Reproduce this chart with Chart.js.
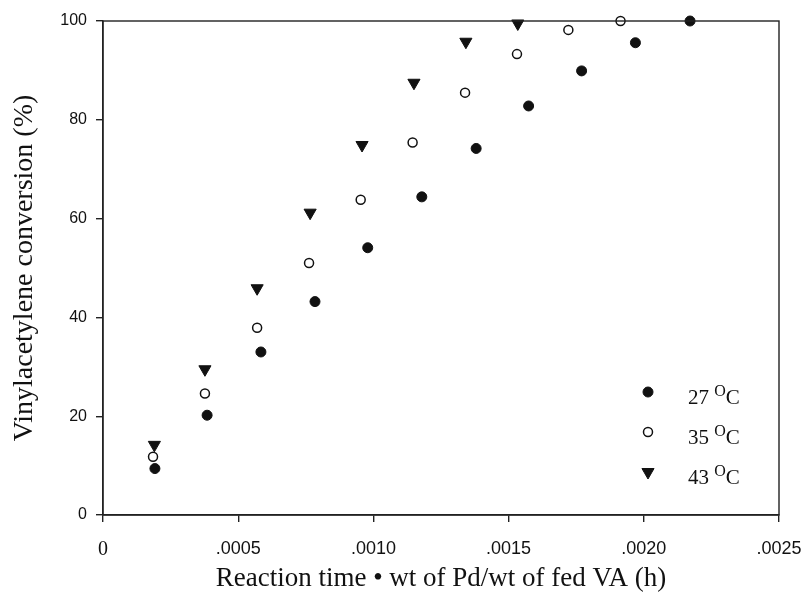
<!DOCTYPE html>
<html>
<head>
<meta charset="utf-8">
<script src="https://cdn.jsdelivr.net/npm/chart.js@4"></script>
<style>
  html, body { margin: 0; padding: 0; background: #fff; }
  #wrap { width: 804px; height: 601px; position: relative; }
</style>
</head>
<body>
<div id="wrap"><canvas id="c"></canvas></div>
<script>
// ---- data ----
const x27 = [0.000192, 0.000385, 0.000584, 0.000784, 0.000979, 0.001179, 0.00138, 0.001574, 0.00177, 0.001969, 0.002171];
const y27 = [9.4, 20.2, 33.0, 43.2, 54.1, 64.4, 74.2, 82.8, 89.9, 95.6, 100];
const x35 = [0.000185, 0.000377, 0.00057, 0.000762, 0.000953, 0.001145, 0.001339, 0.001531, 0.001721, 0.001914];
const y35 = [11.8, 24.6, 37.9, 51.0, 63.8, 75.4, 85.5, 93.3, 98.2, 100];
const x43 = [0.00019, 0.000377, 0.00057, 0.000766, 0.000958, 0.00115, 0.001342, 0.001534];
const y43 = [14.2, 29.5, 45.9, 61.2, 74.9, 87.5, 95.8, 99.5];
const seriesTemps = ['27', '35', '43'];
const xTitle = 'Reaction time \u2022 wt of Pd/wt of fed VA (h)';
const yTitle = 'Vinylacetylene conversion (%)';
const xTickStep = 0.0005, xMax = 0.0025;
const yTickStep = 20, yMax = 100;

const toPts = (xs, ys) => xs.map((x, i) => ({ x: x, y: ys[i] }));
const INK = '#111';

const datasets = [
  { label: seriesTemps[0], data: toPts(x27, y27), pointStyle: 'circle', pointRadius: 5,
    backgroundColor: INK, borderColor: INK, borderWidth: 1, clip: false },
  { label: seriesTemps[1], data: toPts(x35, y35), pointStyle: 'circle', pointRadius: 4.5,
    backgroundColor: '#fff', borderColor: INK, borderWidth: 1.5, clip: false },
  { label: seriesTemps[2], data: toPts(x43, y43), pointStyle: 'triangle', pointRadius: 7, rotation: 180,
    backgroundColor: INK, borderColor: INK, borderWidth: 1, clip: false }
];

const frame = {
  id: 'frame',
  afterDatasetsDraw(chart) {
    const { ctx, chartArea: a } = chart;
    ctx.save();
    ctx.strokeStyle = '#222';
    ctx.lineWidth = 1.4;
    ctx.strokeRect(a.left, a.top, a.right - a.left, a.bottom - a.top);
    ctx.restore();
  }
};

const legendPlugin = {
  id: 'customLegend',
  afterDraw(chart) {
    const ctx = chart.ctx;
    const mx = 648, tx = 688, y0 = 392, dy = 40;
    ctx.save();
    chart.data.datasets.forEach((ds, i) => {
      const y = y0 + i * dy;
      ctx.fillStyle = ds.backgroundColor;
      ctx.strokeStyle = ds.borderColor;
      ctx.lineWidth = ds.borderWidth;
      ctx.beginPath();
      if (ds.pointStyle === 'triangle') {
        const r = ds.pointRadius;
        ctx.moveTo(mx - r * 0.866, y - r * 0.5);
        ctx.lineTo(mx + r * 0.866, y - r * 0.5);
        ctx.lineTo(mx, y + r);
        ctx.closePath();
      } else {
        ctx.arc(mx, y, ds.pointRadius, 0, Math.PI * 2);
      }
      ctx.fill();
      ctx.stroke();
      // text: "27 °C" with superscript O
      ctx.fillStyle = INK;
      ctx.textBaseline = 'alphabetic';
      ctx.textAlign = 'left';
      ctx.font = '21px "Liberation Serif", "Times New Roman", serif';
      const t = ds.label + ' ';
      ctx.fillText(t, tx, y + 12);
      let w = ctx.measureText(t).width;
      ctx.font = '16px "Liberation Serif", "Times New Roman", serif';
      ctx.fillText('O', tx + w, y + 4);
      w += ctx.measureText('O').width;
      ctx.font = '21px "Liberation Serif", "Times New Roman", serif';
      ctx.fillText('C', tx + w, y + 12);
    });
    ctx.restore();
  }
};

new Chart(document.getElementById('c'), {
  type: 'scatter',
  data: { datasets: datasets },
  options: {
    responsive: true,
    maintainAspectRatio: false,
    animation: false,
    layout: { padding: { top: 21, right: 25, left: 0, bottom: 0 } },
    plugins: { legend: { display: false }, tooltip: { enabled: false } },
    scales: {
      x: {
        type: 'linear', min: 0, max: xMax,
        afterFit(s) { s.height = 86; s.paddingLeft = 0; s.paddingRight = 0; },
        grid: { drawOnChartArea: false, tickLength: 7, color: '#222', lineWidth: 1.4 },
        border: { color: '#222', width: 1.4 },
        ticks: {
          stepSize: xTickStep, color: INK, padding: 16,
          font: (c) => (c.tick && c.tick.value === 0)
            ? { family: '"Liberation Serif", serif', size: 20 }
            : { family: '"Liberation Sans", Arial, sans-serif', size: 18 },
          callback: (v) => v === 0 ? '0' : Number(v).toFixed(4).replace(/^0/, '')
        },
        title: { display: true, text: xTitle, color: INK,
          font: { family: '"Liberation Serif", "Times New Roman", serif', size: 27 },
          padding: { top: 0, bottom: 6 } }
      },
      y: {
        type: 'linear', min: 0, max: yMax,
        afterFit(s) { s.width = 103; s.paddingTop = 0; s.paddingBottom = 0; },
        grid: { drawOnChartArea: false, tickLength: 7, color: '#222', lineWidth: 1.4 },
        border: { color: '#222', width: 1.4 },
        ticks: { stepSize: yTickStep, color: INK, padding: 9,
          font: { family: '"Liberation Sans", Arial, sans-serif', size: 16 } },
        title: { display: true, text: yTitle, color: INK,
          font: { family: '"Liberation Serif", "Times New Roman", serif', size: 28 },
          padding: { top: 8, bottom: 0 } }
      }
    }
  },
  plugins: [frame, legendPlugin]
});
</script>
</body>
</html>
